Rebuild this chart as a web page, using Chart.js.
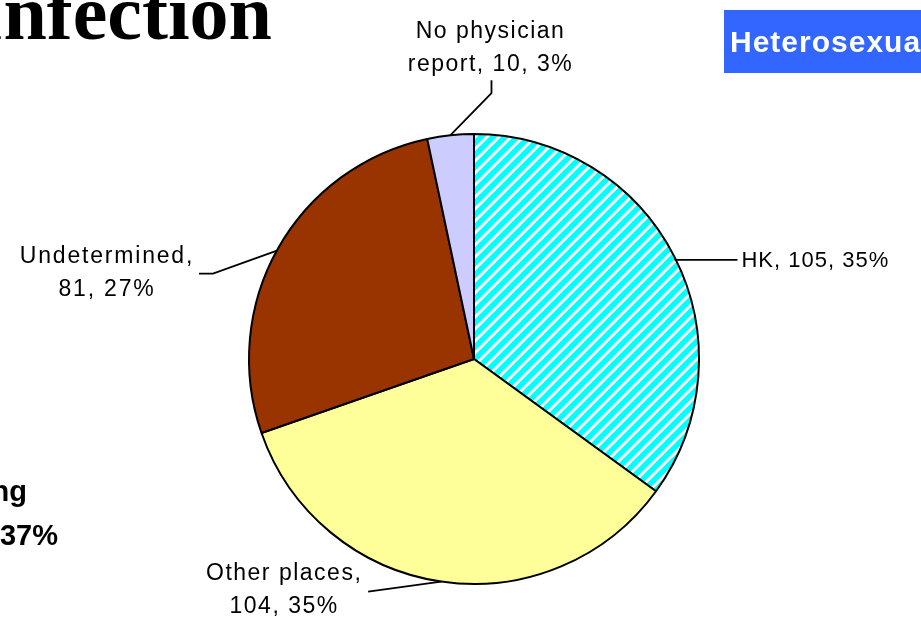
<!DOCTYPE html>
<html>
<head>
<meta charset="utf-8">
<script src="https://cdn.jsdelivr.net/npm/chart.js@4"></script>
<style>
  html, body { margin: 0; padding: 0; background: #fff; overflow: hidden; }
  canvas { display: block; }
</style>
</head>
<body>
<canvas id="chart" width="921" height="621"></canvas>
<script>
// slices, clockwise from 12 o'clock
const categories = ['HK', 'Other places', 'Undetermined', 'No physician report'];
const cases = [105, 104, 81, 10];
const percents = [35, 35, 27, 3];
const sliceColors = ['#00FFFF', '#FFFF99', '#993300', '#CCCCFF'];

// leader line bends and text spot, relative to the slice's outer mid point
const leaders = [
    { path: [[0, 3], [63, 3]], tx: 67, ty: 10, align: 'left', size: 22, spacing: 1 },
    { path: [[0, 0], [-73, 10]], tx: -157, ty: -2, align: 'center', size: 23, spacing: 1.5 },
    { path: [[-1, 2], [-65, 25], [-79, 25]], tx: -171, ty: 14, align: 'center', size: 23, spacing: 1.8 },
    { path: [[0, 0], [41, -42], [41, -55]], tx: 40, ty: -97, align: 'center', size: 23, spacing: 1.5 },
];

// cyan with white diagonal stripes for HK
function makeHatch() {
    const c = document.createElement('canvas');
    c.width = 12; c.height = 12;
    const g = c.getContext('2d');
    g.fillStyle = '#00FFFF';
    g.fillRect(0, 0, 12, 12);
    g.strokeStyle = '#FFFFFF';
    g.lineWidth = 3;
    [0, 12, 24].forEach(k => {
        g.beginPath();
        g.moveTo(k - 14, 14);
        g.lineTo(k + 2, -2);
        g.stroke();
    });
    const ctx = document.getElementById('chart').getContext('2d');
    return ctx.createPattern(c, 'repeat');
}

function wrapText(ctx, text, maxWidth) {
    const words = text.split(' ');
    const lines = [];
    let line = '';
    words.forEach(w => {
        const test = line ? line + ' ' + w : w;
        if (line && ctx.measureText(test).width > maxWidth) {
            lines.push(line);
            line = w;
        } else {
            line = test;
        }
    });
    lines.push(line);
    return lines;
}

const sliceLabels = {
    id: 'sliceLabels',
    afterDatasetsDraw(chart) {
        const ctx = chart.ctx;
        const arcs = chart.getDatasetMeta(0).data;
        ctx.save();
        ctx.fillStyle = '#000';
        ctx.strokeStyle = '#000';
        ctx.lineWidth = 1.8;
        ctx.textBaseline = 'alphabetic';
        arcs.forEach((arc, i) => {
            const p = arc.getProps(['x', 'y', 'startAngle', 'endAngle', 'outerRadius'], true);
            const mid = (p.startAngle + p.endAngle) / 2;
            const ax = p.x + Math.cos(mid) * p.outerRadius;
            const ay = p.y + Math.sin(mid) * p.outerRadius;
            const lead = leaders[i];
            ctx.beginPath();
            lead.path.forEach(([dx, dy], k) => {
                if (k === 0) ctx.moveTo(ax + dx, ay + dy);
                else ctx.lineTo(ax + dx, ay + dy);
            });
            ctx.stroke();
            ctx.font = lead.size + 'px "Liberation Sans", Arial, sans-serif';
            ctx.letterSpacing = lead.spacing + 'px';
            const text = categories[i] + ', ' + cases[i] + ', ' + percents[i] + '%';
            const lines = wrapText(ctx, text, 180);
            ctx.textAlign = lead.align;
            lines.forEach((ln, k) => {
                ctx.fillText(ln, ax + lead.tx, ay + lead.ty + k * 33);
            });
        });
        ctx.restore();
    }
};

// bits of the slide that show around the chart
const slideBits = {
    id: 'slideBits',
    afterDraw(chart) {
        const ctx = chart.ctx;
        ctx.save();
        ctx.textBaseline = 'alphabetic';
        ctx.fillStyle = '#000';
        ctx.font = 'bold 78px "Liberation Serif", "Times New Roman", serif';
        ctx.textAlign = 'right';
        ctx.fillText('Infection', 272, 39);

        ctx.fillStyle = '#3366FF';
        ctx.fillRect(724, 10, 200, 63);
        ctx.fillStyle = '#FFFFFF';
        ctx.font = 'bold 30px "Liberation Sans", Arial, sans-serif';
        ctx.letterSpacing = '1px';
        ctx.textAlign = 'left';
        ctx.fillText('Heterosexual', 730, 52);

        ctx.letterSpacing = '0px';
        ctx.fillStyle = '#000';
        ctx.font = 'bold 29px "Liberation Sans", Arial, sans-serif';
        ctx.textAlign = 'right';
        ctx.fillText('ng', 27, 501);
        ctx.fillText('37%', 58, 545);
        ctx.restore();
    }
};

new Chart(document.getElementById('chart'), {
    type: 'pie',
    data: {
        labels: categories,
        datasets: [{
            data: cases,
            backgroundColor: [makeHatch(), sliceColors[1], sliceColors[2], sliceColors[3]],
            borderColor: '#000000',
            borderWidth: 2,
            hoverBorderWidth: 2,
            hoverOffset: 0,
        }],
    },
    options: {
        responsive: false,
        animation: false,
        events: [],
        layout: { padding: { left: 248, right: 221, top: 133, bottom: 36 } },
        plugins: {
            legend: { display: false },
            tooltip: { enabled: false },
        },
    },
    plugins: [sliceLabels, slideBits],
});
</script>
</body>
</html>
